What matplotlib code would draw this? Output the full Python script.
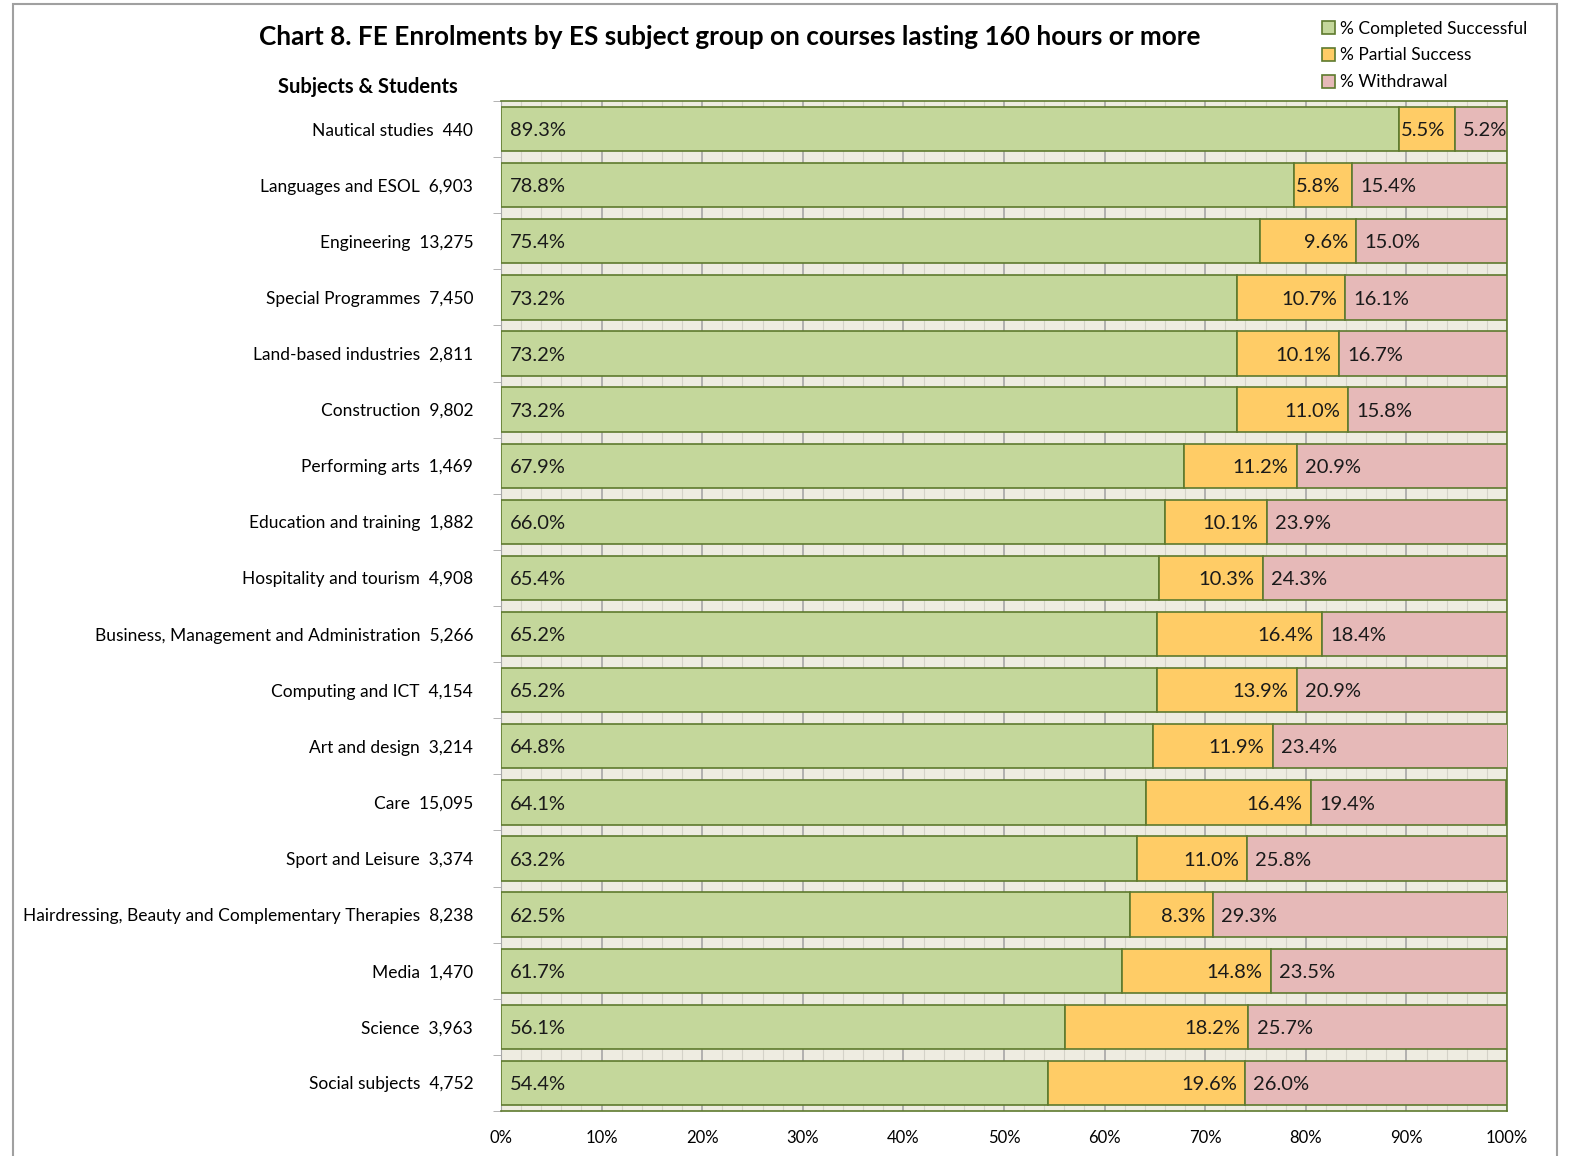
import matplotlib.pyplot as plt
from matplotlib.patches import Rectangle
from matplotlib.ticker import MultipleLocator, FuncFormatter

plt.rcParams['font.family'] = ['Lato', 'DejaVu Sans']

subjects = [
    'Nautical studies', 'Languages and ESOL', 'Engineering', 'Special Programmes',
    'Land-based industries', 'Construction', 'Performing arts', 'Education and training',
    'Hospitality and tourism', 'Business, Management and Administration', 'Computing and ICT',
    'Art and design', 'Care', 'Sport and Leisure',
    'Hairdressing, Beauty and Complementary Therapies', 'Media', 'Science', 'Social subjects',
]
students = [440, 6903, 13275, 7450, 2811, 9802, 1469, 1882, 4908, 5266, 4154, 3214,
            15095, 3374, 8238, 1470, 3963, 4752]
completed = [89.3, 78.8, 75.4, 73.2, 73.2, 73.2, 67.9, 66.0, 65.4, 65.2, 65.2, 64.8,
             64.1, 63.2, 62.5, 61.7, 56.1, 54.4]
partial = [5.5, 5.8, 9.6, 10.7, 10.1, 11.0, 11.2, 10.1, 10.3, 16.4, 13.9, 11.9,
           16.4, 11.0, 8.3, 14.8, 18.2, 19.6]
withdrawal = [5.2, 15.4, 15.0, 16.1, 16.7, 15.8, 20.9, 23.9, 24.3, 18.4, 20.9, 23.4,
              19.4, 25.8, 29.3, 23.5, 25.7, 26.0]

c_green = '#C4D79B'
c_orange = '#FFCC66'
c_pink = '#E6B9B8'
edge = '#5E7A2E'

fig = plt.figure(figsize=(15.8, 11.56), dpi=100)
ax = fig.add_axes([501 / 1580, 1 - 1111 / 1156, 1006 / 1580, 1010 / 1156])
ax.set_facecolor('#EEECE1')

y = list(range(len(subjects)))
h = 0.79
left2 = [c + p for c, p in zip(completed, partial)]
ax.barh(y, completed, height=h, color=c_green, edgecolor=edge, linewidth=1.2,
        label='% Completed Successful', zorder=3)
ax.barh(y, partial, left=completed, height=h, color=c_orange, edgecolor=edge, linewidth=1.2,
        label='% Partial Success', zorder=3)
ax.barh(y, withdrawal, left=left2, height=h, color=c_pink, edgecolor=edge, linewidth=1.2,
        label='% Withdrawal', zorder=3)

fs = 14.5
for i in y:
    ax.text(0.9, i + 0.03, f'{completed[i]:.1f}%', va='center', ha='left', fontsize=fs,
            color='#1a1a1a', zorder=4)
    if partial[i] < 7:
        ax.text(completed[i] + 0.2, i + 0.03, f'{partial[i]:.1f}%', va='center', ha='left',
                fontsize=fs, color='#1a1a1a', zorder=4)
    else:
        ax.text(left2[i] - 0.8, i + 0.03, f'{partial[i]:.1f}%', va='center', ha='right',
                fontsize=fs, color='#1a1a1a', zorder=4)
    ax.text(left2[i] + 0.8, i + 0.03, f'{withdrawal[i]:.1f}%', va='center', ha='left',
            fontsize=fs, color='#1a1a1a', zorder=4)

ax.set_xlim(0, 100)
ax.set_ylim(len(subjects) - 0.5, -0.5)
ax.xaxis.set_major_locator(MultipleLocator(10))
ax.xaxis.set_minor_locator(MultipleLocator(2))
ax.xaxis.set_major_formatter(FuncFormatter(lambda v, p: f'{v:.0f}%'))
ax.grid(axis='x', which='major', color='#A6A6A6', linewidth=1.2, zorder=0)
ax.grid(axis='x', which='minor', color='#D4D2C8', linewidth=0.8, zorder=0)
ax.tick_params(axis='x', which='both', length=0, labelsize=12, pad=14)

ax.set_yticks(y)
ax.set_yticklabels([f'{s}  {n:,}' for s, n in zip(subjects, students)], fontsize=12.5)
ax.set_yticks([i + 0.5 for i in range(-1, len(subjects))], minor=True)
ax.tick_params(axis='y', which='major', length=0, pad=20)
ax.tick_params(axis='y', which='minor', length=6, color='#A6A6A6')

for s in ['top', 'right', 'bottom']:
    ax.spines[s].set_color(edge)
    ax.spines[s].set_linewidth(1.2)
ax.spines['left'].set_color('#A6A6A6')

fig.text(730 / 1580, 1 - 37 / 1156,
         'Chart 8. FE Enrolments by ES subject group on courses lasting 160 hours or more',
         ha='center', va='center', fontsize=18.8, fontweight='bold')
fig.text(368 / 1580, 1 - 87 / 1156, 'Subjects & Students', ha='center', va='center',
         fontsize=14.5, fontweight='bold')

fig.legend(loc='upper left', bbox_to_anchor=(1313 / 1580, 1 - 12 / 1156), frameon=False,
           fontsize=12.5, handlelength=0.75, handleheight=0.75, handletextpad=0.3,
           labelspacing=0.62, borderpad=0)

fig.patches.append(Rectangle((13 / 1580, -0.05), (1557 - 13) / 1580, 1.05 - 4 / 1156,
                             transform=fig.transFigure, fill=False, edgecolor='#A0A0A0',
                             linewidth=1.5))

fig.savefig('out.png', dpi=100)
